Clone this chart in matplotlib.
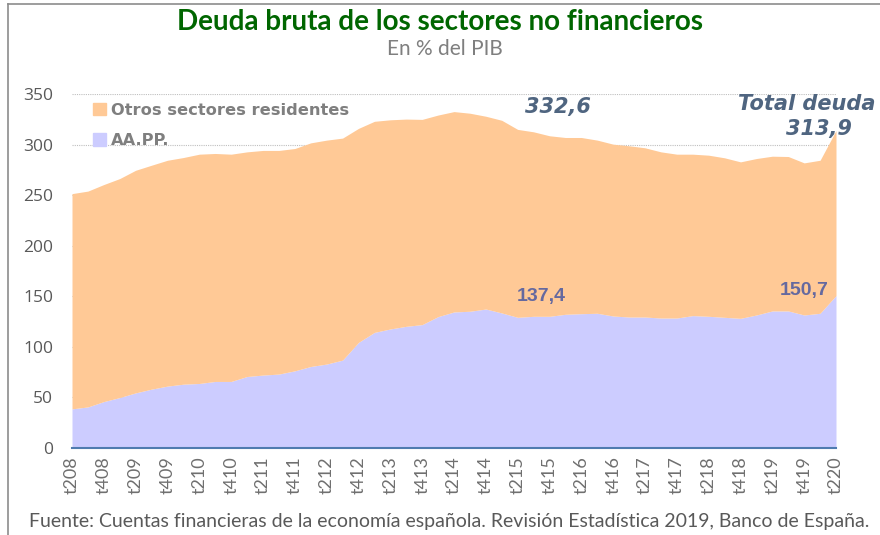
import matplotlib
matplotlib.use("Agg")
import matplotlib.pyplot as plt
from matplotlib.patches import Patch
from matplotlib.lines import Line2D

# quarterly labels t208 .. t220 (only every 2nd quarter is labelled)
quarters = [f"t{q}{y:02d}" for y in range(8, 21) for q in (1, 2, 3, 4)][1:-2]
tick_labels = quarters[::2]

# % del PIB
aapp = [38.7, 40.6, 45.9, 49.9, 54.5, 58.2, 61.2, 63.1, 63.8, 65.8,
        65.8, 70.7, 72.1, 73.1, 76.3, 80.6, 83.0, 86.9, 104.4, 114.3,
        117.7, 120.3, 122.0, 129.9, 134.5, 135.2, 137.4, 133.5, 129.2, 130.2,
        130.2, 132.2, 132.8, 133.2, 130.5, 129.5, 129.5, 128.5, 128.5, 130.9,
        130.2, 129.2, 128.2, 131.5, 135.5, 135.5, 131.5, 133.2, 150.7]
total = [251.5, 254.0, 260.5, 266.4, 274.6, 279.6, 284.5, 287.2, 290.5, 291.2,
         290.5, 292.8, 294.2, 294.2, 296.1, 301.7, 304.4, 306.4, 316.0, 323.0,
         324.5, 325.2, 324.9, 329.2, 332.6, 331.0, 328.0, 324.0, 315.0, 312.6,
         308.7, 307.0, 307.0, 304.4, 300.4, 298.8, 296.8, 292.8, 290.5, 290.5,
         289.5, 286.9, 282.9, 286.2, 288.5, 288.2, 281.9, 284.5, 313.9]

c_otros = "#FFC996"
c_aapp = "#CCCCFF"
grey = "#7F7F7F"

fig = plt.figure(figsize=(8.8, 5.35), dpi=100)
# frame lines at left and top of the picture
fig.add_artist(Line2D([8 / 880, 8 / 880], [0, 1 - 4 / 535], color="#8C8C8C", lw=1.2))
fig.add_artist(Line2D([8 / 880, 1], [1 - 4 / 535, 1 - 4 / 535], color="#8C8C8C", lw=1.2))

ax = fig.add_axes([72 / 880, (535 - 448) / 535, (836 - 72) / 880, (448 - 94) / 535])
x = list(range(len(aapp)))
ax.fill_between(x, 0, aapp, color=c_aapp, lw=0, zorder=2)
ax.fill_between(x, aapp, total, color=c_otros, lw=0, zorder=2)

ax.set_xlim(0, len(x) - 1)
ax.set_ylim(0, 350)
ax.set_yticks(range(0, 351, 50))
ax.yaxis.grid(True, color="#BFBFBF", ls=(0, (1, 1)), lw=0.8, zorder=1)
ax.set_axisbelow(True)
for s in ("top", "right", "left"):
    ax.spines[s].set_visible(False)
ax.spines["bottom"].set_color("#4F7BB0")
ax.spines["bottom"].set_linewidth(1.5)
ax.spines["bottom"].set_zorder(5)
ax.tick_params(axis="y", length=0, pad=13.5, labelsize=12.5, labelcolor="#595959")
ax.set_yticklabels([str(v) for v in range(0, 351, 50)], family="Open Sans")
ax.set_xticks(x[::2])
ax.set_xticklabels(tick_labels, rotation=90, family="Lato", fontsize=13, color="#6F6F6F")
ax.tick_params(axis="x", length=0, pad=6)

# legend
handles = [Patch(color=c_otros), Patch(color=c_aapp)]
leg = ax.legend(handles, ["Otros sectores residentes", "AA.PP."], loc="upper left",
                bbox_to_anchor=(0.008, 1.017), frameon=False, handlelength=0.8,
                handleheight=0.8, handletextpad=0.3, labelspacing=0.95,
                prop={"family": "DejaVu Sans", "weight": "bold", "size": 11.7})
for t in leg.get_texts():
    t.set_color(grey)

# annotations
ax.text(30.5, 337, "332,6", ha="center", va="center", fontsize=15, fontweight="bold",
        style="italic", color="#4F6580", family="DejaVu Sans")
ax.text(50.5, 340, "Total deuda", ha="right", va="center", fontsize=15, fontweight="bold",
        style="italic", color="#4F6580", family="DejaVu Sans", clip_on=False)
ax.text(46.9, 315.5, "313,9", ha="center", va="center", fontsize=15, fontweight="bold",
        style="italic", color="#4F6580", family="DejaVu Sans", clip_on=False)
ax.text(29.5, 150, "137,4", ha="center", va="center", fontsize=14, fontweight="bold",
        color="#65699F", family="Liberation Sans")
ax.text(46.0, 156, "150,7", ha="center", va="center", fontsize=14, fontweight="bold",
        color="#65699F", family="Liberation Sans")

fig.text(440 / 880, 1 - 22 / 535, "Deuda bruta de los sectores no financieros", ha="center",
         va="center", fontsize=20, fontweight="bold", color="#006600", family="Lato")
fig.text(445 / 880, 1 - 49 / 535, "En % del PIB", ha="center", va="center",
         fontsize=15, color="#7F7F7F", family="Lato")
fig.text(449 / 880, 1 - 522 / 535,
         "Fuente: Cuentas financieras de la economía española. Revisión Estadística 2019, Banco de España.",
         ha="center", va="center", fontsize=14, color="#595959", family="Lato")

fig.savefig("out.png", dpi=100)
